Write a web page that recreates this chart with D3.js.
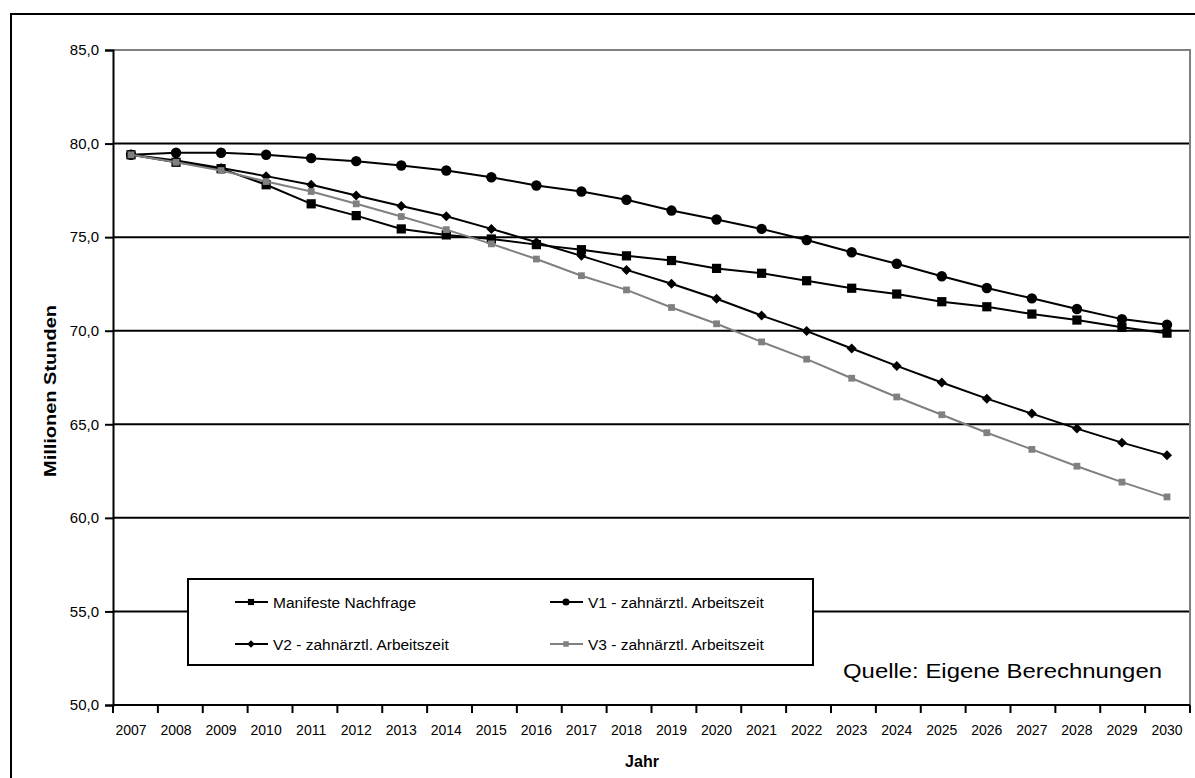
<!DOCTYPE html>
<html>
<head>
<meta charset="utf-8">
<script src="https://cdn.jsdelivr.net/npm/d3@7"></script>
<style>
  body { margin: 0; background: #fff; }
  text { font-family: "Liberation Sans", Arial, sans-serif; fill: #000; }
</style>
</head>
<body>
<svg id="chart" width="1195" height="778"></svg>
<script>
// data
let years = ["2007","2008","2009","2010","2011","2012","2013","2014","2015","2016","2017","2018",
             "2019","2020","2021","2022","2023","2024","2025","2026","2027","2028","2029","2030"];
let manifest = [79.4, 79.0, 78.66, 77.8, 76.78, 76.15, 75.44, 75.12, 74.9, 74.6, 74.33, 74.0,
                73.75, 73.33, 73.07, 72.67, 72.27, 71.96, 71.55, 71.28, 70.89, 70.57, 70.18, 69.87];
let v1 = [79.4, 79.51, 79.51, 79.4, 79.22, 79.06, 78.83, 78.56, 78.2, 77.76, 77.44, 77.0,
          76.42, 75.94, 75.44, 74.85, 74.19, 73.58, 72.91, 72.28, 71.73, 71.16, 70.62, 70.32];
let v2 = [79.4, 79.1, 78.7, 78.26, 77.8, 77.23, 76.66, 76.12, 75.44, 74.73, 74.0, 73.25,
          72.51, 71.71, 70.81, 69.98, 69.05, 68.12, 67.23, 66.37, 65.57, 64.77, 64.02, 63.34];
let v3 = [79.4, 79.0, 78.56, 77.97, 77.44, 76.78, 76.1, 75.4, 74.64, 73.83, 72.94, 72.18,
          71.24, 70.37, 69.4, 68.48, 67.46, 66.46, 65.51, 64.55, 63.66, 62.76, 61.91, 61.12];
let seriesNames = ["Manifeste Nachfrage", "V1 - zahnärztl. Arbeitszeit",
                   "V2 - zahnärztl. Arbeitszeit", "V3 - zahnärztl. Arbeitszeit"];
let yTicks = [50, 55, 60, 65, 70, 75, 80, 85];

let svg = d3.select("#chart");
let grayColor = "#808080";

let plotLeft = 113, plotRight = 1190, plotTop = 50, plotBottom = 705;

let xBand = d3.scaleBand().domain(years).range([plotLeft, plotRight]);
let x = d3.scalePoint().domain(years).range([131, 1167]);
let y = d3.scaleLinear().domain([50, 85]).range([plotBottom, plotTop]);
let fmt = d3.formatLocale({decimal: ",", thousands: ".", grouping: [3], currency: ["", "€"]}).format(".1f");

// outer frame
svg.append("rect")
  .attr("x", 11).attr("y", 14)
  .attr("width", 1200).attr("height", 800)
  .style("fill", "none")
  .style("stroke", "#000")
  .style("stroke-width", 2);

// gridlines
svg.selectAll(".grid")
  .data(yTicks.filter(d => d > 50 && d < 85))
  .enter().append("line")
  .attr("class", "grid")
  .attr("x1", plotLeft).attr("x2", plotRight)
  .attr("y1", d => y(d)).attr("y2", d => y(d))
  .style("stroke", "#000")
  .style("stroke-width", 2);

// plot border top/right (gray)
svg.append("path")
  .attr("d", "M" + plotLeft + "," + y(85) + "H" + plotRight + "V" + plotBottom)
  .style("fill", "none")
  .style("stroke", grayColor)
  .style("stroke-width", 2);

// y axis
let yAxis = d3.axisLeft(y).tickValues(yTicks).tickFormat(fmt).tickSize(8).tickPadding(6);
let gy = svg.append("g").attr("transform", "translate(" + plotLeft + ",0)").call(yAxis);
gy.select(".domain").style("stroke", "#000").style("stroke-width", 2);
gy.selectAll(".tick line").style("stroke", "#000").style("stroke-width", 2);
gy.selectAll(".tick text")
  .style("font-family", "Liberation Sans, Arial, sans-serif")
  .style("font-size", "15px")
  .style("fill", "#000");

// x axis: ticks between categories, labels at category points
svg.append("line")
  .attr("x1", plotLeft).attr("x2", plotRight)
  .attr("y1", plotBottom).attr("y2", plotBottom)
  .style("stroke", "#000").style("stroke-width", 2);
let tickPos = years.map(d => xBand(d)).concat([plotRight]);
svg.selectAll(".xtick")
  .data(tickPos)
  .enter().append("line")
  .attr("class", "xtick")
  .attr("x1", d => d).attr("x2", d => d)
  .attr("y1", plotBottom).attr("y2", plotBottom + 8)
  .style("stroke", "#000").style("stroke-width", 2);
svg.selectAll(".xlabel")
  .data(years)
  .enter().append("text")
  .attr("class", "xlabel")
  .attr("x", d => x(d))
  .attr("y", 735)
  .attr("text-anchor", "middle")
  .style("font-size", "14px")
  .text(d => d);

// axis titles
svg.append("text")
  .attr("x", 642).attr("y", 767)
  .attr("text-anchor", "middle")
  .style("font-size", "16px")
  .style("font-weight", "bold")
  .text("Jahr");
svg.append("text")
  .attr("transform", "translate(56,391) rotate(-90)")
  .attr("text-anchor", "middle")
  .attr("textLength", 172)
  .attr("lengthAdjust", "spacingAndGlyphs")
  .style("font-size", "17px")
  .style("font-weight", "bold")
  .text("Millionen Stunden");

// marker styles per series (diamond = square turned 45 degrees)
let styles = [
  {color: "#000", symbol: d3.symbolSquare, size: 85, legSize: 38, rot: 0},
  {color: "#000", symbol: d3.symbolCircle, size: 85, legSize: 40, rot: 0},
  {color: "#000", symbol: d3.symbolSquare, size: 50, legSize: 28, rot: 45},
  {color: grayColor, symbol: d3.symbolSquare, size: 46, legSize: 30, rot: 0}
];
let allSeries = [manifest, v1, v2, v3];

let line = d3.line()
  .x((d, i) => x(years[i]))
  .y(d => y(d));

allSeries.forEach(function(vals, k) {
  let st = styles[k];
  svg.append("path")
    .datum(vals)
    .attr("d", line)
    .style("fill", "none")
    .style("stroke", st.color)
    .style("stroke-width", 2);
  svg.selectAll(".mark" + k)
    .data(vals)
    .enter().append("path")
    .attr("class", "mark" + k)
    .attr("d", d3.symbol().type(st.symbol).size(st.size))
    .attr("transform", (d, i) => "translate(" + x(years[i]) + "," + y(d) + ") rotate(" + st.rot + ")")
    .style("fill", st.color);
});

// legend
svg.append("rect")
  .attr("x", 188).attr("y", 579)
  .attr("width", 625).attr("height", 86)
  .style("fill", "#fff")
  .style("stroke", "#000")
  .style("stroke-width", 2);
let legPos = [[235, 602], [550, 602], [235, 644], [550, 644]];
seriesNames.forEach(function(name, k) {
  let st = styles[k];
  let lx = legPos[k][0], ly = legPos[k][1];
  svg.append("line")
    .attr("x1", lx).attr("x2", lx + 33)
    .attr("y1", ly).attr("y2", ly)
    .style("stroke", st.color).style("stroke-width", 2);
  svg.append("path")
    .attr("d", d3.symbol().type(st.symbol).size(st.legSize))
    .attr("transform", "translate(" + (lx + 16) + "," + ly + ") rotate(" + st.rot + ")")
    .style("fill", st.color);
  svg.append("text")
    .attr("x", lx + 38).attr("y", ly + 5.5)
    .style("font-size", "15.5px")
    .text(name);
});

// source note
svg.append("text")
  .attr("x", 843).attr("y", 678)
  .attr("textLength", 319)
  .attr("lengthAdjust", "spacingAndGlyphs")
  .style("font-size", "21px")
  .text("Quelle: Eigene Berechnungen");
</script>
</body>
</html>
